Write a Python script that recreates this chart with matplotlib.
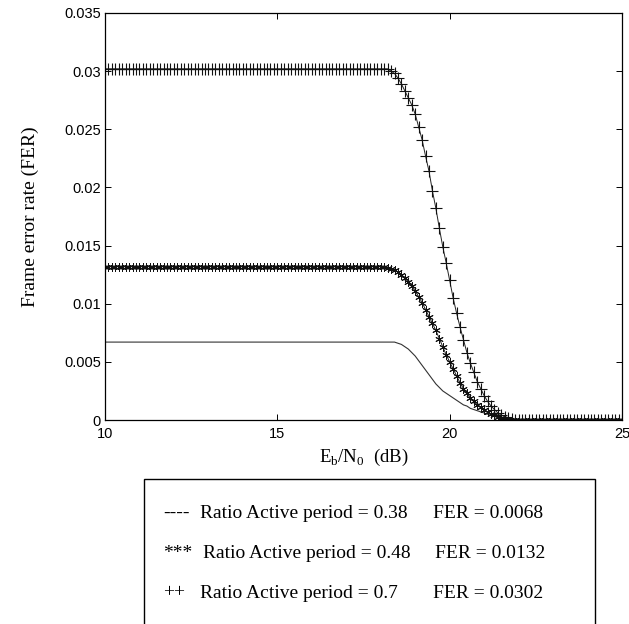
import numpy as np
import matplotlib
matplotlib.use('Agg')
import matplotlib.pyplot as plt
from matplotlib.patches import Rectangle

# Eb/N0 grid (dB), 0.1 dB steps
ebn0 = np.round(np.arange(10.0, 25.05, 0.1), 1)

# ratio 0.38 (solid line): flat up to 18.4 dB, then roll-off
fer_038_flat = [0.0067] * 85
fer_038_drop = [0.0066, 0.0065, 0.0063, 0.0061, 0.0058, 0.0055, 0.0051, 0.0047,
                0.0043, 0.0039, 0.0035, 0.0031, 0.0028, 0.0025, 0.0023, 0.0021,
                0.0019, 0.0017, 0.0015, 0.0013, 0.0012, 0.0010, 0.0009, 0.0008,
                0.0007, 0.0006, 0.0005, 0.0004, 0.0003, 0.0002, 0.0001, 0.0001]

# ratio 0.48 (***): flat up to 18.1 dB
fer_048_flat = [0.0132] * 82
fer_048_drop = [0.0131, 0.0130, 0.0129, 0.0127, 0.0125, 0.0122, 0.0119, 0.0115,
                0.0111, 0.0106, 0.0101, 0.0095, 0.0089, 0.0083, 0.0077, 0.0070,
                0.0063, 0.0056, 0.0050, 0.0044, 0.0038, 0.0032, 0.0027, 0.0023,
                0.0019, 0.0016, 0.0013, 0.0011, 0.0009, 0.0007, 0.0005, 0.0004,
                0.0003, 0.0002, 0.0001, 0.0001]

# ratio 0.7 (++): flat up to 18.2 dB
fer_070_flat = [0.0302] * 83
fer_070_drop = [0.0300, 0.0298, 0.0294, 0.0289, 0.0283, 0.0277, 0.0271, 0.0263,
                0.0252, 0.0241, 0.0227, 0.0214, 0.0197, 0.0182, 0.0165, 0.0149,
                0.0135, 0.0120, 0.0105, 0.0092, 0.0080, 0.0069, 0.0058, 0.0049,
                0.0041, 0.0033, 0.0027, 0.0021, 0.0016, 0.0012, 0.0009, 0.0006,
                0.0004, 0.0003, 0.0002, 0.0001]

ratios = ['0.38', '0.48', '0.7']
fer_labels = ['0.0068', '0.0132', '0.0302']
legend_marks = ['----', '***', '++']

xticks = [10, 15, 20, 25]
yticks = [0, 0.005, 0.01, 0.015, 0.02, 0.025, 0.03, 0.035]
ytick_labels = ['0', '0.005', '0.01', '0.015', '0.02', '0.025', '0.03', '0.035']


def pad_zeros(flat, drop):
    vals = flat + drop
    return np.array(vals + [0.0] * (len(ebn0) - len(vals)))


fer_038 = pad_zeros(fer_038_flat, fer_038_drop)
fer_048 = pad_zeros(fer_048_flat, fer_048_drop)
fer_070 = pad_zeros(fer_070_flat, fer_070_drop)

plt.rcParams['mathtext.fontset'] = 'custom'
plt.rcParams['mathtext.rm'] = 'Liberation Serif'
serif = 'Liberation Serif'
sans = 'Liberation Sans'

W, H = 629, 624
fig = plt.figure(figsize=(W / 100, H / 100), dpi=100)
ax = fig.add_axes([105 / W, 1 - 420 / H, (622 - 105) / W, (420 - 13) / H])

ax.plot(ebn0, fer_038, '-', color='#333333', lw=0.8)
ax.plot(ebn0, fer_048, '-', color='#222222', lw=0.7, marker=(6, 2, 0),
        markersize=6, markeredgewidth=0.7, markeredgecolor='#111111')
ax.plot(ebn0, fer_070, '-', color='#222222', lw=0.7, marker='+',
        markersize=8, markeredgewidth=0.8, markeredgecolor='#111111')

ax.set_xlim(10, 25)
ax.set_ylim(0, 0.035)
ax.set_xticks(xticks)
ax.set_xticklabels([str(t) for t in xticks], fontfamily=sans, fontsize=10.5)
ax.set_yticks(yticks)
ax.set_yticklabels(ytick_labels, fontfamily=sans, fontsize=10.5)
ax.tick_params(direction='in', length=4, width=0.7, top=True, right=True, pad=3)
ax.tick_params(axis='x', pad=5)
for s in ax.spines.values():
    s.set_linewidth(0.9)

ax.set_xlabel(r'E$_\mathrm{b}$/N$_\mathrm{0}$  (dB)', fontfamily=serif,
              fontsize=13.5, labelpad=4)
ax.set_ylabel('Frame error rate (FER)', fontfamily=serif, fontsize=14, labelpad=18)

# text legend box under the axes
fig.patches.append(Rectangle((144 / W, -0.01), (595 - 144) / W, 0.01 + 1 - 479 / H,
                             transform=fig.transFigure, fill=False,
                             edgecolor='black', linewidth=1.0))
row_y = [513, 553, 593]
ratio_x = [200, 203, 200]
fer_x = [433, 435, 433]
for i in range(3):
    y = 1 - row_y[i] / H
    fig.text(163 / W, y, legend_marks[i], fontfamily=serif, fontsize=14, va='center')
    fig.text(ratio_x[i] / W, y, 'Ratio Active period = ' + ratios[i],
             fontfamily=serif, fontsize=14, va='center')
    fig.text(fer_x[i] / W, y, 'FER = ' + fer_labels[i],
             fontfamily=serif, fontsize=14, va='center')

fig.savefig('out.png', dpi=100)
